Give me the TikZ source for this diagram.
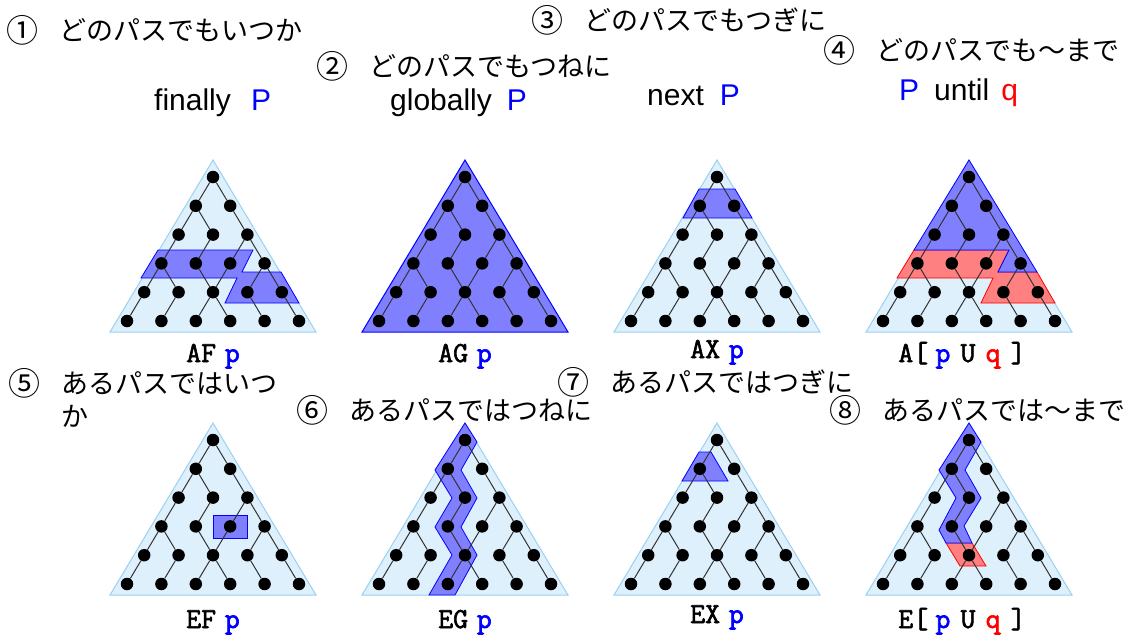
\documentclass[tikz,border=0pt]{standalone}
\usepackage{fontspec}
\setmainfont{Liberation Sans}
\newfontfamily\jpfont{Noto Sans CJK JP}
\newfontfamily\codefont[FakeBold=2.2]{Latin Modern Mono}
\usetikzlibrary{positioning}
\definecolor{trifill}{RGB}{222,240,252}
\definecolor{triline}{RGB}{155,208,242}
\definecolor{hlblue}{RGB}{128,128,255}
\definecolor{hlred}{RGB}{255,128,128}
\newcommand{\pblue}{\textcolor{blue}{p}}
\newcommand{\qred}{\textcolor{red}{q}}
\newcommand{\Pblue}{\textcolor{blue}{P}}
\begin{document}
\begin{tikzpicture}[x=1pt,y=-1pt,every node/.style={inner sep=0pt},
  tdot/.style={circle,fill=black,minimum size=12.5pt},
  link/.style={draw=black!80,line width=1pt},
  tri/.style={draw=triline,fill=trifill,line width=1pt},
  hlb/.style={draw=blue,fill=hlblue,line width=0.8pt},
  hlr/.style={draw=red,fill=hlred,line width=0.8pt},
  num/.style={font=\jpfont\fontsize{32}{36}\selectfont,anchor=west},
  jp/.style={font=\jpfont\fontsize{27}{33}\selectfont},
  en/.style={font=\fontsize{30}{36}\selectfont,anchor=base west},
  lbl/.style={font=\codefont\fontsize{29}{33}\selectfont,anchor=base},
  ctree/.pic={
    \foreach \r in {0,...,5}{
      \foreach \i in {0,...,\r}
        \node[tdot] (d\r\i) at ({(2*\i-\r)*17.2},{\r*28.8}) {};
    }
    \foreach \a/\b in {00/10,00/11,10/20,10/21,11/22,20/30,21/31,22/32,22/33,
                       30/40,30/41,31/42,32/42,33/43,33/44,40/50,41/51,42/52,42/53,43/54,44/55}
      \draw[link] (d\a) -- (d\b);
  }]
\useasboundingbox (0,0) rectangle (1135,637);

% titles, upper row
\node[num] (n1) at (6,30) {①};
\node[jp,right=21pt of n1] (t1) {どのパスでもいつか};
\node[num] (n2) at (316,66) {②};
\node[jp,right=21pt of n2] (t2) {どのパスでもつねに};
\node[num] (n3) at (531,20) {③};
\node[jp,right=21pt of n3] (t3) {どのパスでもつぎに};
\node[num] (n4) at (823,50) {④};
\node[jp,right=21pt of n4] (t4) {どのパスでも〜まで};
\node[en] (e1) at (154,110) {finally\hspace{0.67em}\Pblue};
\node[en] (e2) at (390,110) {globally\hspace{0.5em}\Pblue};
\node[en] (e3) at (647,105) {next\hspace{0.53em}\Pblue};
\node[en] (e4) at (899,100) {\Pblue\hspace{0.5em}until\hspace{0.4em}\qred};

% titles, lower row
\node[num] (n5) at (8,383) {⑤};
\node[jp,right=21pt of n5] (t5) {あるパスではいつ};
\node[jp,anchor=west] (t5b) at (61,416) {か};
\node[num] (n6) at (296,410) {⑥};
\node[jp,right=21pt of n6] (t6) {あるパスではつねに};
\node[num] (n7) at (557,382) {⑦};
\node[jp,right=21pt of n7] (t7) {あるパスではつぎに};
\node[num] (n8) at (829,410) {⑧};
\node[jp,right=21pt of n8] (t8) {あるパスでは〜まで};

% AF p
\begin{scope}[shift={(213,177)}]
\draw[tri] (0,-17) -- (-103,155) -- (103,155) -- cycle;
\draw[hlb] (-55,73) -- (40,73) -- (29,95) -- (68,95) -- (86,126) -- (12,126) -- (24,101) -- (-72,101) -- cycle;
\pic (a1) {ctree};
\end{scope}
% AG p
\begin{scope}[shift={(465,177)}]
\draw[tri,draw=blue,fill=hlblue] (0,-17) -- (-103,155) -- (103,155) -- cycle;
\pic (a2) {ctree};
\end{scope}
% AX p
\begin{scope}[shift={(717,177)}]
\draw[tri] (0,-17) -- (-103,155) -- (103,155) -- cycle;
\draw[hlb] (-18,12) -- (18,12) -- (35,41) -- (-34,41) -- cycle;
\pic (a3) {ctree};
\end{scope}
% A[p U q]
\begin{scope}[shift={(969,177)}]
\draw[tri] (0,-17) -- (-103,155) -- (103,155) -- cycle;
\draw[hlr] (-55,73) -- (40,73) -- (29,95) -- (68,95) -- (86,126) -- (12,126) -- (24,101) -- (-72,101) -- cycle;
\draw[hlb] (0,-17) -- (68,95) -- (29,95) -- (40,73) -- (-55,73) -- cycle;
\pic (a4) {ctree};
\end{scope}

% EF p
\begin{scope}[shift={(213,440)}]
\draw[tri] (0,-17) -- (-103,155) -- (103,155) -- cycle;
\draw[hlb] (0,75) rectangle (34,98);
\pic (e5) {ctree};
\end{scope}
% EG p
\begin{scope}[shift={(465,440)}]
\draw[tri] (0,-17) -- (-103,155) -- (103,155) -- cycle;
\draw[hlb] (0,-17) -- (12,2) -- (-4,30) -- (12,58) -- (-4,87) -- (12,115) -- (-10,155)
  -- (-36,155) -- (-13,115) -- (-30,87) -- (-13,58) -- (-30,30) -- cycle;
\pic (e6) {ctree};
\end{scope}
% EX p
\begin{scope}[shift={(717,440)}]
\draw[tri] (0,-17) -- (-103,155) -- (103,155) -- cycle;
\draw[hlb] (-18,12) -- (-6,12) -- (11,41) -- (-35,41) -- cycle;
\pic (e7) {ctree};
\end{scope}
% E[p U q]
\begin{scope}[shift={(969,440)}]
\draw[tri] (0,-17) -- (-103,155) -- (103,155) -- cycle;
\draw[hlr] (-23,103) -- (3,103) -- (17,126) -- (-9,126) -- cycle;
\draw[hlb] (0,-17) -- (12,2) -- (-4,30) -- (12,58) -- (-5,86) -- (3,103) -- (-23,103)
  -- (-30,90) -- (-13,58) -- (-30,30) -- cycle;
\pic (e8) {ctree};
\end{scope}

% operator labels
\node[lbl] (l1) at (213,362) {AF\hspace{.3em}\pblue};
\node[lbl] (l2) at (465,362) {AG\hspace{.3em}\pblue};
\node[lbl] (l3) at (717,358) {AX\hspace{.3em}\pblue};
\node[lbl] (l4) at (962,362) {A[\hspace{.25em}\pblue\hspace{.35em}U\hspace{.35em}\qred\hspace{.35em}]};
\node[lbl] (l5) at (213,628) {EF\hspace{.3em}\pblue};
\node[lbl] (l6) at (465,628) {EG\hspace{.3em}\pblue};
\node[lbl] (l7) at (717,623) {EX\hspace{.3em}\pblue};
\node[lbl] (l8) at (962,628) {E[\hspace{.25em}\pblue\hspace{.35em}U\hspace{.35em}\qred\hspace{.35em}]};
\end{tikzpicture}
\end{document}
